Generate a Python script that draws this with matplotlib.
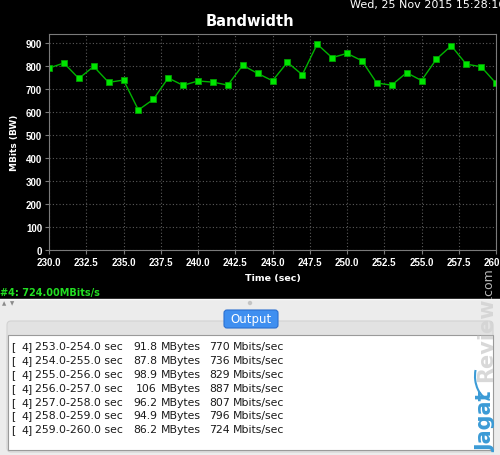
import matplotlib
matplotlib.use("Agg")
import matplotlib.pyplot as plt
from matplotlib.patches import Rectangle, FancyBboxPatch, Circle, Arc

# bandwidth samples, one per second (Mbits/sec)
seconds = list(range(230, 261))
mbits = [790, 812, 745, 797, 728, 738, 608, 654, 747, 715, 734, 729, 716, 802,
         767, 735, 815, 761, 894, 835, 854, 822, 725, 716, 770, 736, 829, 887,
         807, 796, 724]

x_ticks = [230.0, 232.5, 235.0, 237.5, 240.0, 242.5, 245.0, 247.5, 250.0,
           252.5, 255.0, 257.5, 260.0]
y_ticks = list(range(0, 1000, 100))

# iperf output lines shown in the text panel
intervals = ["253.0-254.0", "254.0-255.0", "255.0-256.0", "256.0-257.0",
             "257.0-258.0", "258.0-259.0", "259.0-260.0"]
transfers = ["91.8", "87.8", "98.9", "106", "96.2", "94.9", "86.2"]
bandwidths = [770, 736, 829, 887, 807, 796, 724]

W, H = 500, 456
fig = plt.figure(figsize=(W / 100, H / 100), dpi=100)
fig.patch.set_facecolor("black")

# background layer in pixel coordinates
bg = fig.add_axes([0, 0, 1, 1], zorder=0)
bg.set_xlim(0, W)
bg.set_ylim(H, 0)
bg.axis("off")

# lower panel
bg.add_patch(Rectangle((0, 300), W, H - 300, facecolor="#ececec", edgecolor="none"))
bg.plot([0, W], [300, 300], color="#f8f8f8", lw=1)
bg.text(2, 303.5, "▲", fontsize=4, color="#8a8a8a", ha="left", va="center")
bg.text(10, 303.5, "▼", fontsize=4, color="#8a8a8a", ha="left", va="center")
bg.add_patch(Circle((250, 304), 2.2, facecolor="#c4c4c4", edgecolor="none"))
bg.add_patch(FancyBboxPatch((7, 322), 486, 131, boxstyle="round,pad=0,rounding_size=4",
                            facecolor="#e2e2e2", edgecolor="#d2d2d2", lw=0.8))
bg.add_patch(Rectangle((8, 336), 485, 115, facecolor="white", edgecolor="#9a9a9a", lw=0.8))

# Output button
bg.add_patch(FancyBboxPatch((224, 311), 54, 18, boxstyle="round,pad=0,rounding_size=3",
                            facecolor="#3f8ff0", edgecolor="#2a6fd0", lw=0.8))
bg.text(251, 320, "Output", fontsize=8.5, color="white", ha="center", va="center")

# text lines
y0, dy = 347, 13.9
for i in range(len(intervals)):
    y = y0 + i * dy
    kw = dict(fontsize=7.8, color="#1a1a1a", va="center")
    bg.text(11, y, "[", ha="left", **kw)
    bg.text(21, y, "4]", ha="left", **kw)
    bg.text(35, y, intervals[i] + " sec", ha="left", **kw)
    bg.text(157, y, transfers[i], ha="right", **kw)
    bg.text(161, y, "MBytes", ha="left", **kw)
    bg.text(230, y, str(bandwidths[i]), ha="right", **kw)
    bg.text(233, y, "Mbits/sec", ha="left", **kw)

# status line and header texts
bg.text(0, 293, "#4: %.2fMBits/s" % mbits[-1], fontsize=7, fontweight="bold",
        color="#22dd22", ha="left", va="center")
bg.text(250, 21, "Bandwidth", fontsize=10.5, fontweight="bold", color="white",
        ha="center", va="center")
bg.text(350, 5, "Wed, 25 Nov 2015 15:28:16", fontsize=8, color="white",
        ha="left", va="center")

# watermark
bg.text(486, 452, "Jagat", fontsize=15, fontweight="bold", color="#3b9bd6",
        rotation=90, ha="center", va="bottom", zorder=5)
bg.text(486, 382, "Review", fontsize=15, fontweight="bold", color="#d4d4d4",
        alpha=0.9, rotation=90, ha="center", va="bottom", zorder=5)
bg.text(488, 298, ".com", fontsize=9, color="#b8b8b8", rotation=90,
        ha="center", va="bottom", zorder=5)
bg.add_patch(Arc((492, 377), 34, 48, theta1=95, theta2=200, color="#3b9bd6", lw=1.5, zorder=5))

# main chart
left, right, top, bottom = 49, 496, 35, 251
ax = fig.add_axes([left / W, 1 - bottom / H, (right - left) / W, (bottom - top) / H], zorder=1)
ax.set_facecolor("black")
ax.plot(seconds, mbits, color="#00b400", lw=1, marker="s", markersize=5,
        markerfacecolor="#00e600", markeredgecolor="#00a000", markeredgewidth=0.6)
ax.set_xlim(230, 260)
ax.set_ylim(0, 938)
ax.set_xticks(x_ticks)
ax.set_xticklabels(["%.1f" % v for v in x_ticks])
ax.set_yticks(y_ticks)
ax.grid(True, color="#5a5a5a", linestyle=(0, (1, 2)), lw=0.8)
for s in ax.spines.values():
    s.set_color("#7a7a7a")
ax.tick_params(colors="#7a7a7a", labelcolor="white", length=3, labelsize=7, pad=2)
for lab in ax.get_xticklabels() + ax.get_yticklabels():
    lab.set_fontweight("bold")
    lab.set_family("Liberation Sans")
ax.set_xlabel("Time (sec)", color="white", fontsize=6.8, fontweight="bold", labelpad=4)
ax.set_ylabel("MBits (BW)", color="white", fontsize=6.5, fontweight="bold", labelpad=5)

fig.savefig("out.png", dpi=100, facecolor=fig.get_facecolor())
